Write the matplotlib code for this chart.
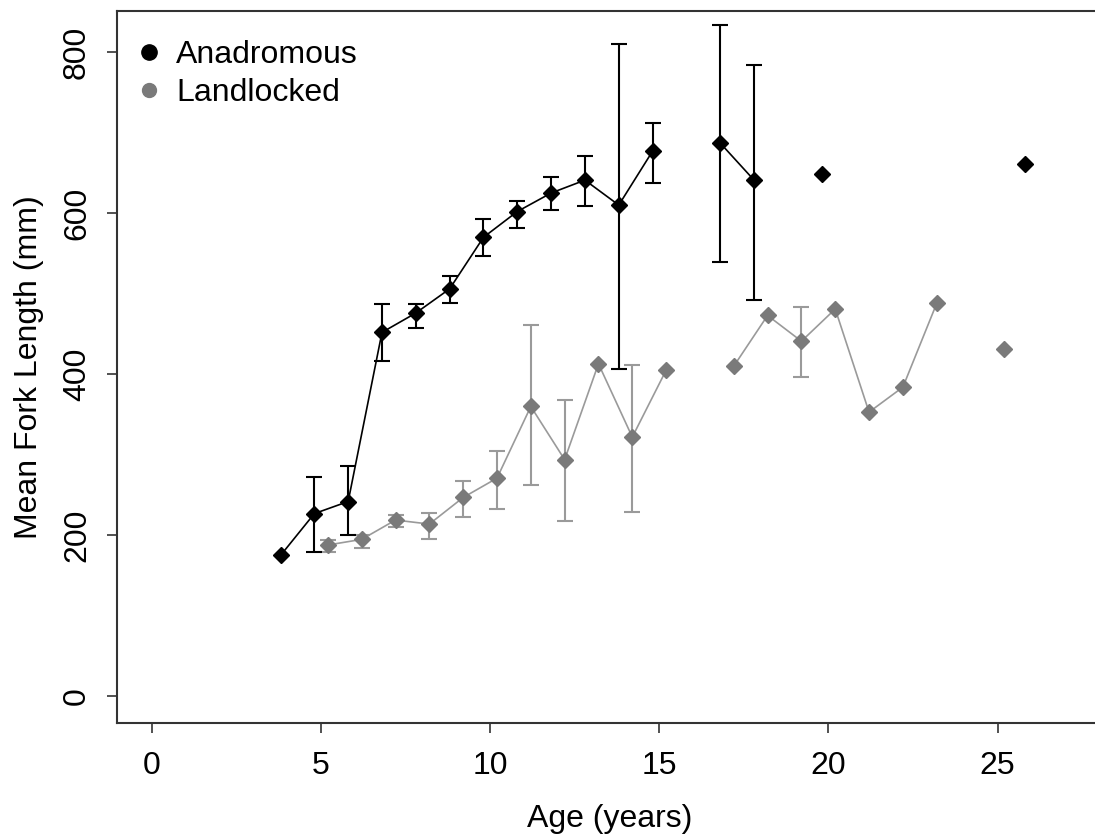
import numpy as np
import matplotlib.pyplot as plt

plt.rcParams['font.family'] = ['Liberation Sans', 'DejaVu Sans']

# mean fork length by age, NaN where no fish of that age were caught
ages = np.arange(4, 27)

anad_mean = [175, 227, 242, 452, 476, 506, 570, 602, 625, 641, 610, 677, np.nan,
             687, 641, np.nan, 649, np.nan, np.nan, np.nan, np.nan, np.nan, 661]
anad_lo = [np.nan, 179, 200, 417, 458, 489, 547, 582, 604, 609, 407, 637, np.nan,
           539, 492, np.nan, np.nan, np.nan, np.nan, np.nan, np.nan, np.nan, np.nan]
anad_hi = [np.nan, 272, 286, 487, 487, 522, 593, 615, 645, 671, 810, 712, np.nan,
           834, 784, np.nan, np.nan, np.nan, np.nan, np.nan, np.nan, np.nan, np.nan]

land_mean = [np.nan, 188, 195, 219, 214, 247, 271, 360, 294, 413, 322, 405, np.nan,
             410, 473, 441, 481, 353, 384, 488, np.nan, 431, np.nan]
land_lo = [np.nan, 179, 184, 210, 195, 223, 233, 262, 218, np.nan, 229, np.nan, np.nan,
           np.nan, np.nan, 396, np.nan, np.nan, np.nan, np.nan, np.nan, np.nan, np.nan]
land_hi = [np.nan, 194, 200, 225, 228, 268, 305, 461, 368, np.nan, 411, np.nan, np.nan,
           np.nan, np.nan, 484, np.nan, np.nan, np.nan, np.nan, np.nan, np.nan, np.nan]

anad_mean = np.array(anad_mean)
land_mean = np.array(land_mean)
anad_err = [anad_mean - np.array(anad_lo), np.array(anad_hi) - anad_mean]
land_err = [land_mean - np.array(land_lo), np.array(land_hi) - land_mean]

# nudge the two groups apart so the bars don't overlap
xa = ages - 0.2
xl = ages + 0.2

fig = plt.figure(figsize=(10.95, 8.38), dpi=100)
ax = fig.add_axes([0.1068, 0.1372, 0.9, 0.8497])

gray = '#7a7a7a'
lgray = '#9a9a9a'

ax.errorbar(xl, land_mean, yerr=land_err, fmt='none', ecolor=lgray,
            elinewidth=1.5, capsize=6, capthick=1.5, zorder=2)
ax.plot(xl, land_mean, color=lgray, lw=1.2, zorder=2)
ax.plot(xl, land_mean, 'D', color=gray, ms=8.5, mec=gray, zorder=3)

ax.errorbar(xa, anad_mean, yerr=anad_err, fmt='none', ecolor='black',
            elinewidth=1.5, capsize=6, capthick=1.5, zorder=4)
ax.plot(xa, anad_mean, color='black', lw=1.2, zorder=4)
ax.plot(xa, anad_mean, 'D', color='black', ms=8.5, zorder=5)

ax.set_xlim(-1.036, 28.1)
ax.set_ylim(-33, 851)
ax.set_xticks([0, 5, 10, 15, 20, 25])
ax.set_yticks([0, 200, 400, 600, 800])

for side in ['left', 'bottom', 'top', 'right']:
    ax.spines[side].set_linewidth(1.5)
    ax.spines[side].set_color('#333333')

ax.tick_params(axis='both', length=7, width=1.2, color='#333333', labelsize=23)
ax.tick_params(axis='x', pad=13)
ax.tick_params(axis='y', pad=11)
for lab in ax.get_yticklabels():
    lab.set_rotation(90)
    lab.set_va('center')

ax.set_xlabel('Age (years)', fontsize=23, labelpad=17)
ax.set_ylabel('Mean Fork Length (mm)', fontsize=23, labelpad=13)

ax.plot([], [], 'o', color='black', ms=11, label='Anadromous')
ax.plot([], [], 'o', color=gray, ms=10, label='Landlocked')
ax.legend(loc='upper left', frameon=False, fontsize=23, handlelength=0.6,
          handletextpad=0.55, labelspacing=0.25, borderaxespad=0.3,
          bbox_to_anchor=(0.0, 0.99))

fig.savefig('out.png', dpi=100)
